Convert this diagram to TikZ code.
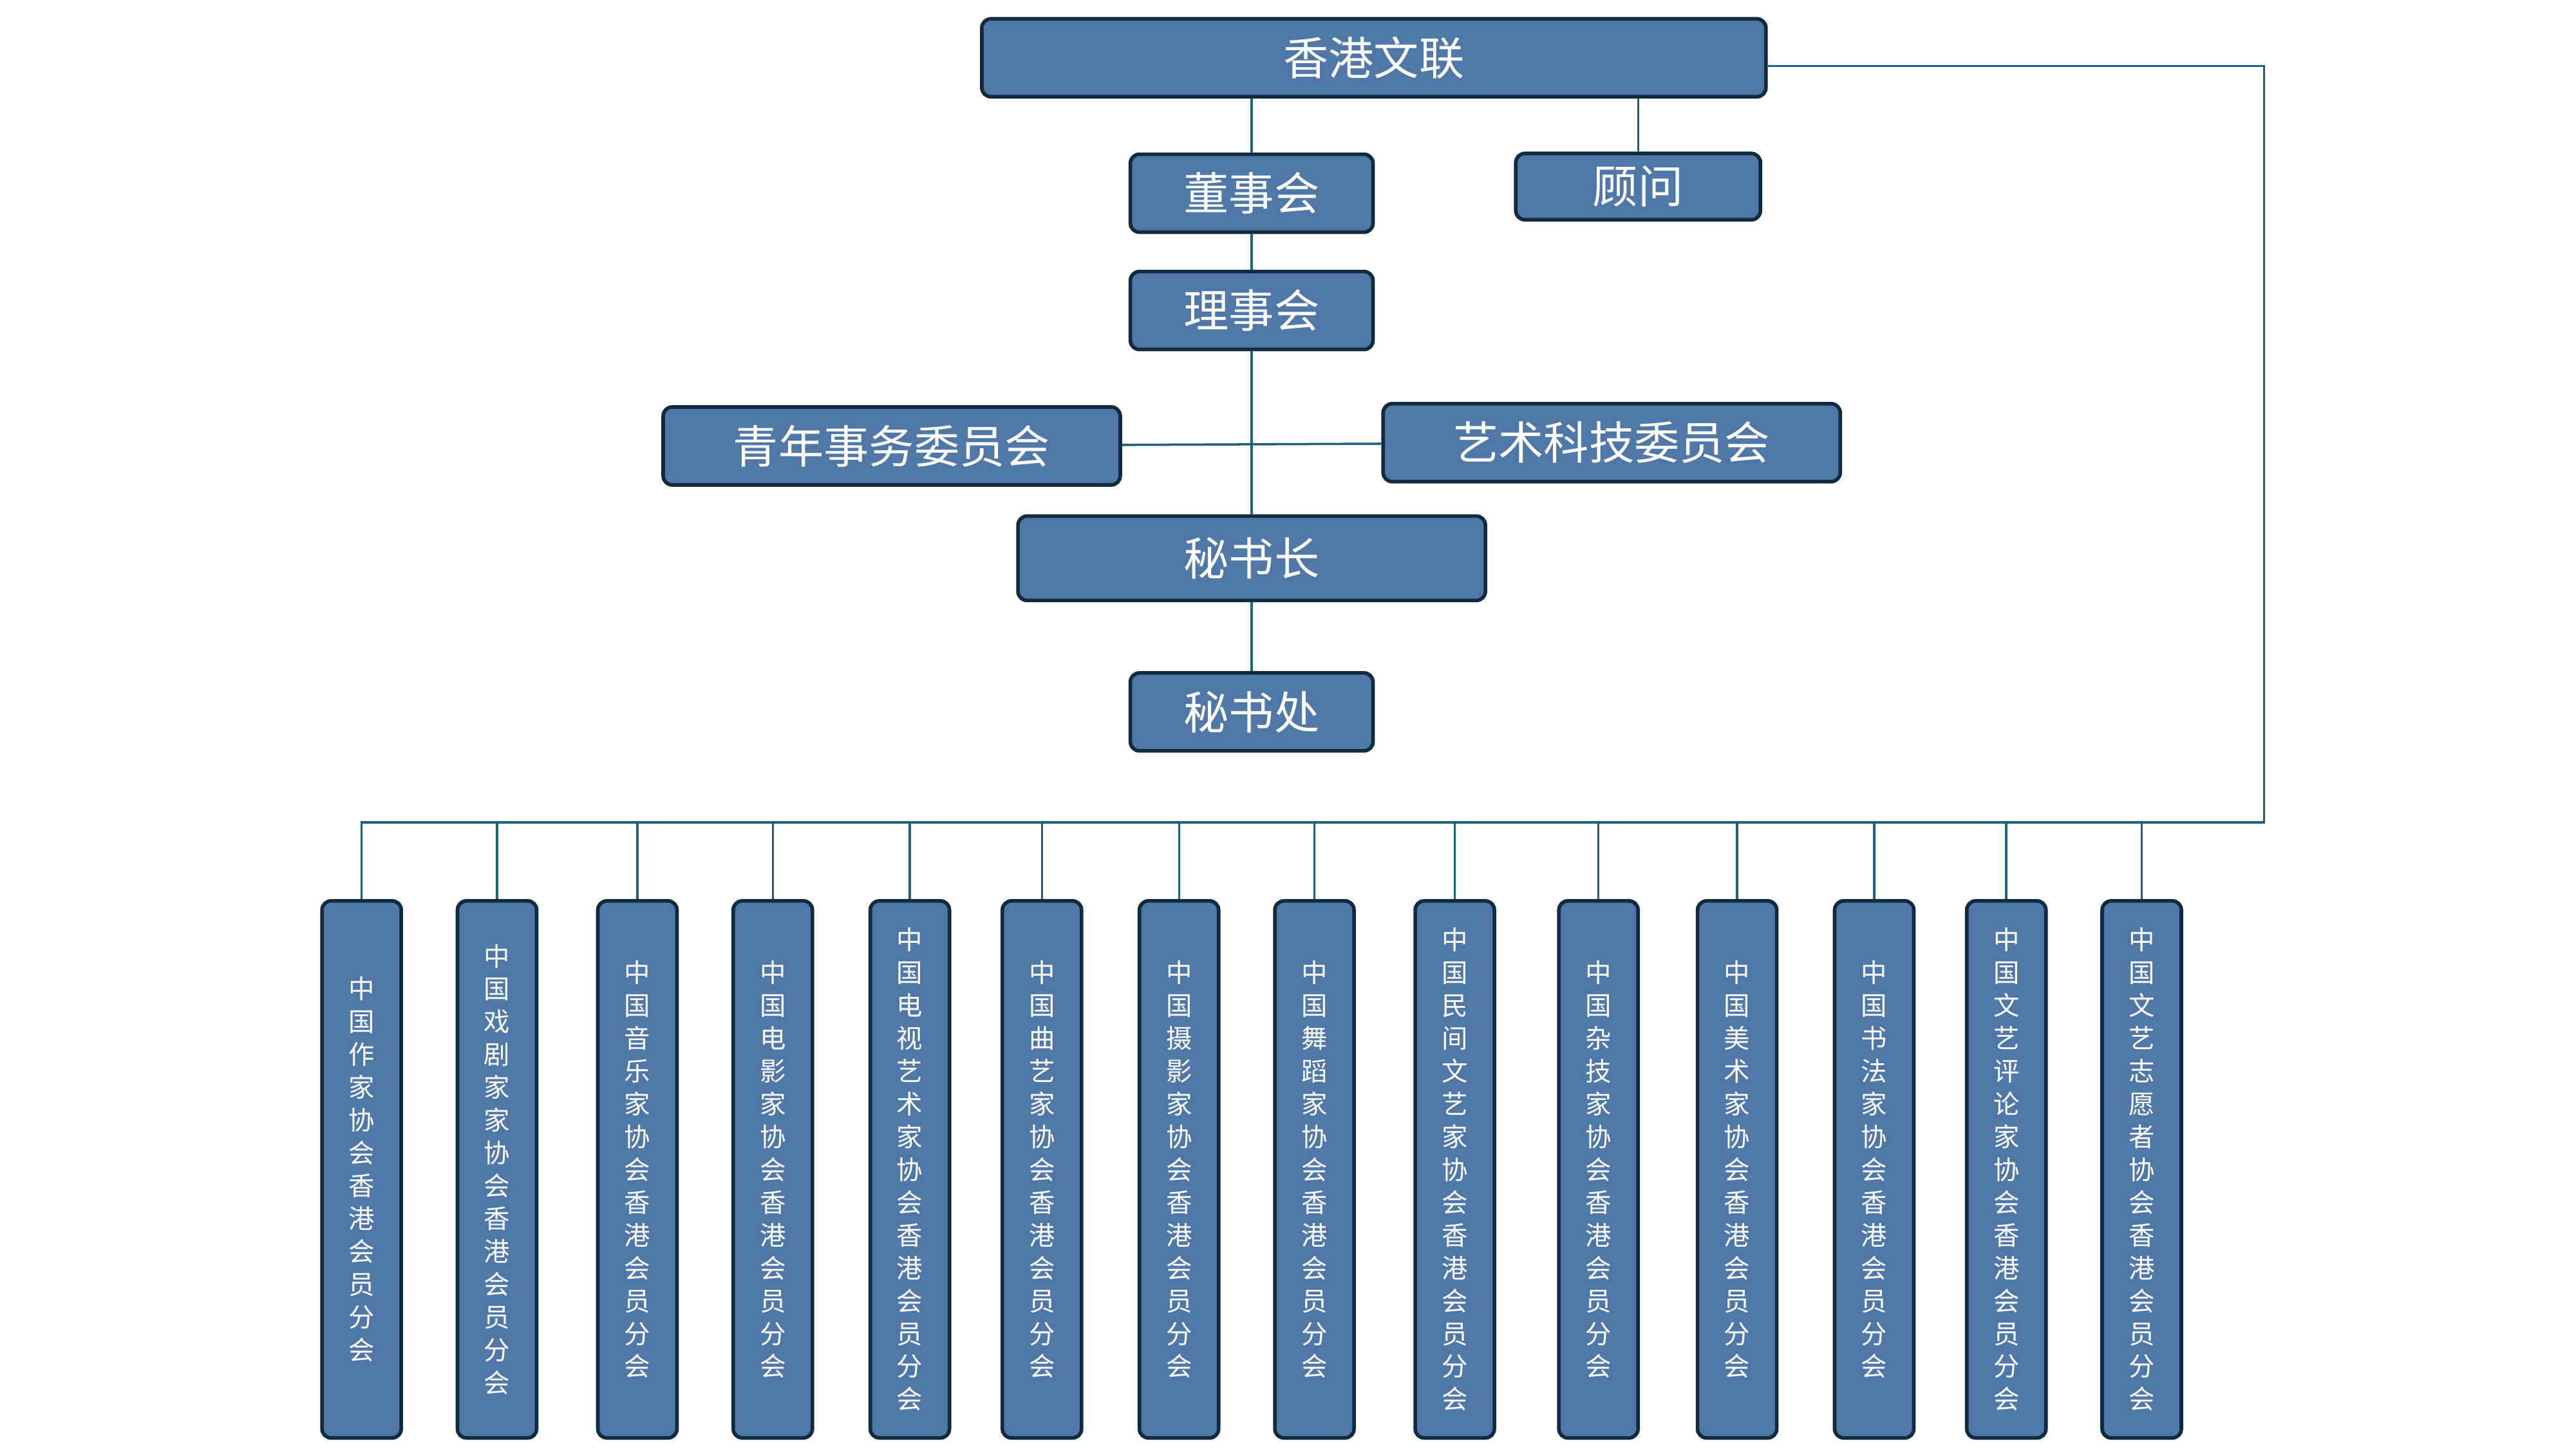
\documentclass[tikz,border=0pt]{standalone}
\usepackage{fontspec}
\setmainfont{Noto Sans CJK SC}
\XeTeXlinebreaklocale "zh"
\XeTeXlinebreakskip=0pt plus 1pt
\definecolor{boxfill}{HTML}{4F77A8}
\definecolor{boxline}{HTML}{0F2B3D}
\definecolor{linkline}{HTML}{1F5F80}
\tikzset{
  org/.style={draw=boxline,line width=1.6pt,fill=boxfill,rounded corners=4pt,
    text=white,font=\fontsize{20}{24}\selectfont,inner sep=0pt},
  branch/.style={org,minimum width=1.23cm,minimum height=8.34cm,
    text width=0.5cm,align=center,font=\fontsize{11.5}{14.5}\selectfont},
  link/.style={draw=linkline,line width=1pt}
}
\begin{document}
\begin{tikzpicture}[x=0.02565cm,y=-0.02565cm]
	\useasboundingbox (0,0) rectangle (1560,877);
	%TOP
	\node[org,minimum width=12.18cm,minimum height=1.21cm] (wenlian) at (832,35) {香港文联};
	\node[org,minimum width=3.77cm,minimum height=1.21cm] (dongshi) at (758,117) {董事会};
	\node[org,minimum width=3.80cm,minimum height=1.03cm] (guwen) at (992,113) {顾问};
	\node[org,minimum width=3.77cm,minimum height=1.21cm] (lishi) at (758,188) {理事会};
	\node[org,minimum width=7.10cm,minimum height=1.21cm] (qingnian) at (540,270) {青年事务委员会};
	\node[org,minimum width=7.10cm,minimum height=1.21cm] (keji) at (976,268) {艺术科技委员会};
	\node[org,minimum width=7.26cm,minimum height=1.31cm] (mishuzhang) at (758,338) {秘书长};
	\node[org,minimum width=3.77cm,minimum height=1.21cm] (mishuchu) at (758,431) {秘书处};
	
	%BRANCHES
	\foreach \i/\x/\t in {1/219/中国作家协会香港会员分会,2/301/中国戏剧家家协会香港会员分会,
		3/386/中国音乐家协会香港会员分会,4/468/中国电影家协会香港会员分会,
		5/551/中国电视艺术家协会香港会员分会,6/631/中国曲艺家协会香港会员分会,
		7/714/中国摄影家协会香港会员分会,8/796/中国舞蹈家协会香港会员分会,
		9/881/中国民间文艺家协会香港会员分会,10/968/中国杂技家协会香港会员分会,
		11/1052/中国美术家协会香港会员分会,12/1135/中国书法家协会香港会员分会,
		13/1215/中国文艺评论家协会香港会员分会,14/1297/中国文艺志愿者协会香港会员分会}
		\node[branch] (b\i) at (\x,708) {\t};
	
	%LINES
	\coordinate (hub) at (758,270);
	\coordinate (corner) at (1371,40);
	\coordinate (busR) at (1371,498);
	\draw[link] (wenlian.south -| dongshi) -- (dongshi);
	\draw[link] (wenlian.south -| guwen) -- (guwen);
	\draw[link] (dongshi) -- (lishi);
	\draw[link] (lishi) -- (mishuzhang);
	\draw[link] (qingnian) -- (keji);
	\draw[link] (mishuzhang) -- (mishuchu);
	\draw[link] (wenlian.east |- corner) -- (corner) -- (busR) -- (b1.north |- busR) -- (b1.north);
	\foreach \i in {2,...,14} \draw[link] (b\i.north |- busR) -- (b\i.north);
\end{tikzpicture}
\end{document}
